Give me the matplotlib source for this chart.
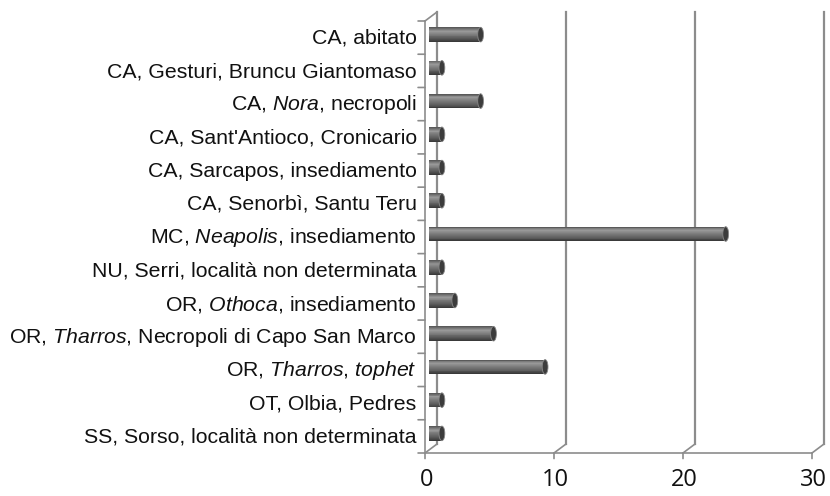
import numpy as np
import matplotlib
matplotlib.use('Agg')
import matplotlib.pyplot as plt
from matplotlib.patches import Ellipse
from matplotlib.transforms import offset_copy
from matplotlib.colors import LinearSegmentedColormap

# Dati
etichette = [
    'CA, abitato',
    'CA, Gesturi, Bruncu Giantomaso',
    r'CA, $\mathit{Nora}$, necropoli',
    "CA, Sant'Antioco, Cronicario",
    'CA, Sarcapos, insediamento',
    'CA, Senorbì, Santu Teru',
    r'MC, $\mathit{Neapolis}$, insediamento',
    'NU, Serri, località non determinata',
    r'OR, $\mathit{Othoca}$, insediamento',
    r'OR, $\mathit{Tharros}$, Necropoli di Capo San Marco',
    r'OR, $\mathit{Tharros}$, $\mathit{tophet}$',
    'OT, Olbia, Pedres',
    'SS, Sorso, località non determinata',
]
valori = [4, 1, 4, 1, 1, 1, 23, 1, 2, 5, 9, 1, 1]
tick_x = [0, 10, 20, 30]

plt.rcParams['mathtext.fontset'] = 'custom'
plt.rcParams['mathtext.rm'] = 'Liberation Sans'
plt.rcParams['mathtext.it'] = 'Liberation Sans:italic'

fig = plt.figure(figsize=(8.3, 4.96), dpi=100)
W, H = 830, 496
ax = fig.add_axes([425 / W, (H - 453) / H, (812 - 425) / W, (453 - 21) / H])
n = len(valori)
ypos = np.arange(n)
ax.set_xlim(0, 30)
ax.set_ylim(n - 0.5, -0.5)
for s in ax.spines.values():
    s.set_visible(False)
ax.set_xticks([])
ax.set_yticks([])

grigio = '#8c8c8c'
back = offset_copy(ax.transData, fig=fig, x=12, y=9, units='dots')
mid = offset_copy(ax.transData, fig=fig, x=4, y=3, units='dots')

y_bot, y_top = n - 0.5, -0.5
# parete di fondo / griglia
for xv in tick_x:
    ax.plot([xv, xv], [y_bot, y_top], color=grigio, lw=1.6, transform=back, clip_on=False)
    p0 = ax.transData.transform((xv, y_bot))
    p1 = back.transform((xv, y_bot))
    fig.add_artist(plt.Line2D([p0[0] / W, p1[0] / W], [p0[1] / H, p1[1] / H], color=grigio, lw=1.2))
# diagonale in alto a sinistra
p0 = ax.transData.transform((0, y_top))
p1 = back.transform((0, y_top))
fig.add_artist(plt.Line2D([p0[0] / W, p1[0] / W], [p0[1] / H, p1[1] / H], color=grigio, lw=1.2))

# assi frontali
ax.plot([0, 0], [y_bot, y_top], color=grigio, lw=1.2, clip_on=False)
ax.plot([0, 30], [y_bot, y_bot], color=grigio, lw=1.2, clip_on=False)
# tacche asse y
for b in np.arange(n + 1) - 0.5:
    ax.annotate('', xy=(0, b), xytext=(-5, 0), textcoords='offset points',
                arrowprops=dict(arrowstyle='-', color=grigio, lw=1.2, shrinkA=0, shrinkB=0))
# tacche asse x ed etichette
for xv in tick_x:
    ax.annotate('', xy=(xv, y_bot), xytext=(0, -4), textcoords='offset points',
                arrowprops=dict(arrowstyle='-', color=grigio, lw=1.2, shrinkA=0, shrinkB=0))
    ax.annotate(str(xv), xy=(xv, y_bot), xytext=(1, -11), textcoords='offset points',
                ha='center', va='top', fontsize=17, family='Open Sans', color='#111111')

# etichette categorie
for y, lab in zip(ypos, etichette):
    ax.annotate(lab, xy=(0, y), xytext=(-6, -0.5), textcoords='offset points',
                ha='right', va='center', fontsize=15.3, family='Liberation Sans', color='#111111')

# barre cilindriche
cmap = LinearSegmentedColormap.from_list('cil', ['#5a5a5a', '#9a9a9a', '#7a7a7a', '#5e5e5e', '#3a3a3a'])
h = 0.44
strisce = 16
for y, v in zip(ypos, valori):
    for k in range(strisce):
        yy = y - h / 2 + (k + 0.5) * h / strisce
        ax.barh(yy, v, height=h / strisce * 1.05, color=cmap(k / (strisce - 1)),
                transform=mid, linewidth=0, zorder=3)
    ax.add_patch(Ellipse((v, y), width=0.45, height=h, facecolor='#3c3c3c',
                         edgecolor='#888888', lw=0.6, transform=mid, zorder=4))

fig.savefig('out.png', dpi=100)
